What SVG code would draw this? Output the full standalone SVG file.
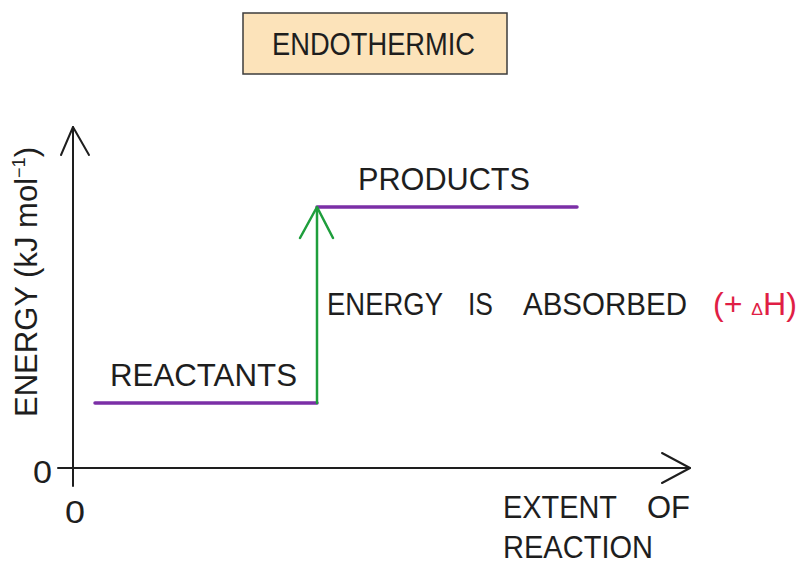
<svg xmlns="http://www.w3.org/2000/svg" width="801" height="565" viewBox="0 0 801 565">
  <style>
    .t { font-family: "Liberation Sans", Arial, sans-serif; font-size: 31px; fill: #1e1e1e; }
    .ax { stroke: #1e1e1e; stroke-width: 2; fill: none; stroke-linecap: round; stroke-linejoin: round; }
    .lvl { stroke: #7b2fa6; stroke-width: 3.5; stroke-linecap: round; }
    .up { stroke: #1e9e3c; stroke-width: 2.5; fill: none; stroke-linecap: round; stroke-linejoin: round; }
    .red { fill: #e01e45; }
  </style>
  <rect width="801" height="565" fill="#ffffff"/>

  <g id="title">
    <rect x="243" y="13" width="264" height="61" fill="#fce3ba" stroke="#3c3c3c" stroke-width="1.5"/>
    <text class="t" x="272" y="55" textLength="203" lengthAdjust="spacingAndGlyphs">ENDOTHERMIC</text>
  </g>

  <g id="axes">
    <line class="ax" x1="73" y1="127" x2="73" y2="486"/>
    <polyline class="ax" points="61,155 73,127 89,155"/>
    <line class="ax" x1="58" y1="468" x2="690" y2="468"/>
    <polyline class="ax" points="662,453 690,468 662,483"/>
    <text class="t" x="33" y="483" font-size="36" textLength="19" lengthAdjust="spacingAndGlyphs">0</text>
    <text class="t" x="65" y="523" font-size="32" textLength="20" lengthAdjust="spacingAndGlyphs">0</text>
    <text class="t" transform="translate(37,282) rotate(-90)" x="-135" y="0" font-size="28" textLength="270" lengthAdjust="spacingAndGlyphs">ENERGY  (kJ  mol<tspan font-size="18" dy="-12">−1</tspan><tspan dy="12">)</tspan></text>
    <text class="t" x="503" y="518" textLength="114" lengthAdjust="spacingAndGlyphs">EXTENT</text>
    <text class="t" x="647" y="518" textLength="43" lengthAdjust="spacingAndGlyphs">OF</text>
    <text class="t" x="503" y="558" textLength="150" lengthAdjust="spacingAndGlyphs">REACTION</text>
  </g>

  <g id="reactants">
    <line class="lvl" x1="95" y1="403" x2="317" y2="403"/>
    <text class="t" x="110" y="386" textLength="187" lengthAdjust="spacingAndGlyphs">REACTANTS</text>
  </g>

  <g id="products">
    <line class="lvl" x1="317" y1="207" x2="577" y2="207"/>
    <text class="t" x="358" y="190" textLength="172" lengthAdjust="spacingAndGlyphs">PRODUCTS</text>
  </g>

  <g id="connectors">
    <line class="up" x1="317" y1="403" x2="317" y2="208"/>
    <polyline class="up" points="300,238 317,207 333,238"/>
    <text class="t" x="327" y="315" textLength="116" lengthAdjust="spacingAndGlyphs">ENERGY</text>
    <text class="t" x="468" y="315" textLength="25" lengthAdjust="spacingAndGlyphs">IS</text>
    <text class="t" x="523" y="315" textLength="164" lengthAdjust="spacingAndGlyphs">ABSORBED</text>
    <text class="t red" x="713" y="315" textLength="84" lengthAdjust="spacingAndGlyphs">(+ <tspan font-size="17">Δ</tspan>H)</text>
  </g>
</svg>
